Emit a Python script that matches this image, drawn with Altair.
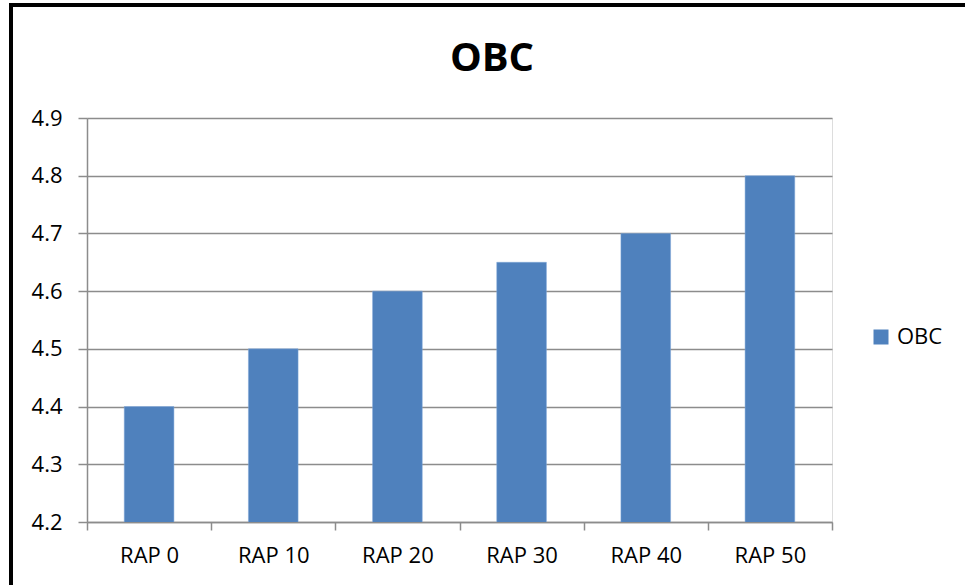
import altair as alt
import pandas as pd

categories = ["RAP 0", "RAP 10", "RAP 20", "RAP 30", "RAP 40", "RAP 50"]
values = [4.4, 4.5, 4.6, 4.65, 4.7, 4.8]
series = "OBC"
title_text = "OBC"
y_ticks = [4.2, 4.3, 4.4, 4.5, 4.6, 4.7, 4.8, 4.9]

df = pd.DataFrame({"cat": categories, "val": values, "series": [series] * len(categories)})

W, H = 745, 404
FONT = "Open Sans"
GRID = "#8c8c8c"

bars = alt.Chart(df).mark_bar(
    width=alt.RelativeBandSize(0.4), color="#4F81BD", stroke="#7EA6D8", strokeWidth=0.5, clip=True
).encode(
    x=alt.X("cat:N", sort=categories, title=None,
            scale=alt.Scale(paddingInner=0, paddingOuter=0),
            axis=alt.Axis(tickBand="extent", labelAngle=0, tickSize=8, labelPadding=15,
                          labelFontSize=22, labelFont=FONT, labelColor="#000000",
                          domainColor=GRID, tickColor=GRID, domainWidth=1.5, tickWidth=1.5)),
    y=alt.Y("val:Q", title=None,
            scale=alt.Scale(domain=[4.2, 4.9], zero=False, nice=False),
            axis=alt.Axis(values=y_ticks, format=".1f", grid=True, gridColor=GRID, gridWidth=1.5,
                          tickSize=9, labelPadding=16, labelFontSize=22, labelFont=FONT,
                          labelColor="#000000", domainColor=GRID, tickColor=GRID,
                          domainWidth=1.5, tickWidth=1.5)),
    color=alt.Color("series:N", title=None,
                    scale=alt.Scale(range=["#4F81BD"]),
                    legend=alt.Legend(orient="none", legendX=783, legendY=208,
                                      symbolType="square", symbolSize=225,
                                      symbolStrokeWidth=0, labelFontSize=22, labelFont=FONT,
                                      labelColor="#000000", labelOffset=5)),
)

base = alt.Chart(pd.DataFrame({"t": [title_text]}))

frame = base.mark_rect(
    fill=None, stroke="#000000", strokeWidth=4
).encode(
    x=alt.value(-76), x2=alt.value(900), y=alt.value(-113), y2=alt.value(480)
)

title = base.mark_text(
    font=FONT, fontSize=40, fontWeight="bold", color="#000000", align="center", baseline="alphabetic"
).encode(
    text="t:N", x=alt.value(405), y=alt.value(-47)
)

chart = alt.layer(bars, frame, title).properties(
    width=W, height=H,
    autosize=alt.AutoSizeParams(type="none"),
    padding={"left": 87, "top": 118, "right": 133, "bottom": 63},
).configure_view(stroke=None).configure(background="#ffffff")

chart.save("out.html", embed_options={"renderer": "svg", "actions": False})
